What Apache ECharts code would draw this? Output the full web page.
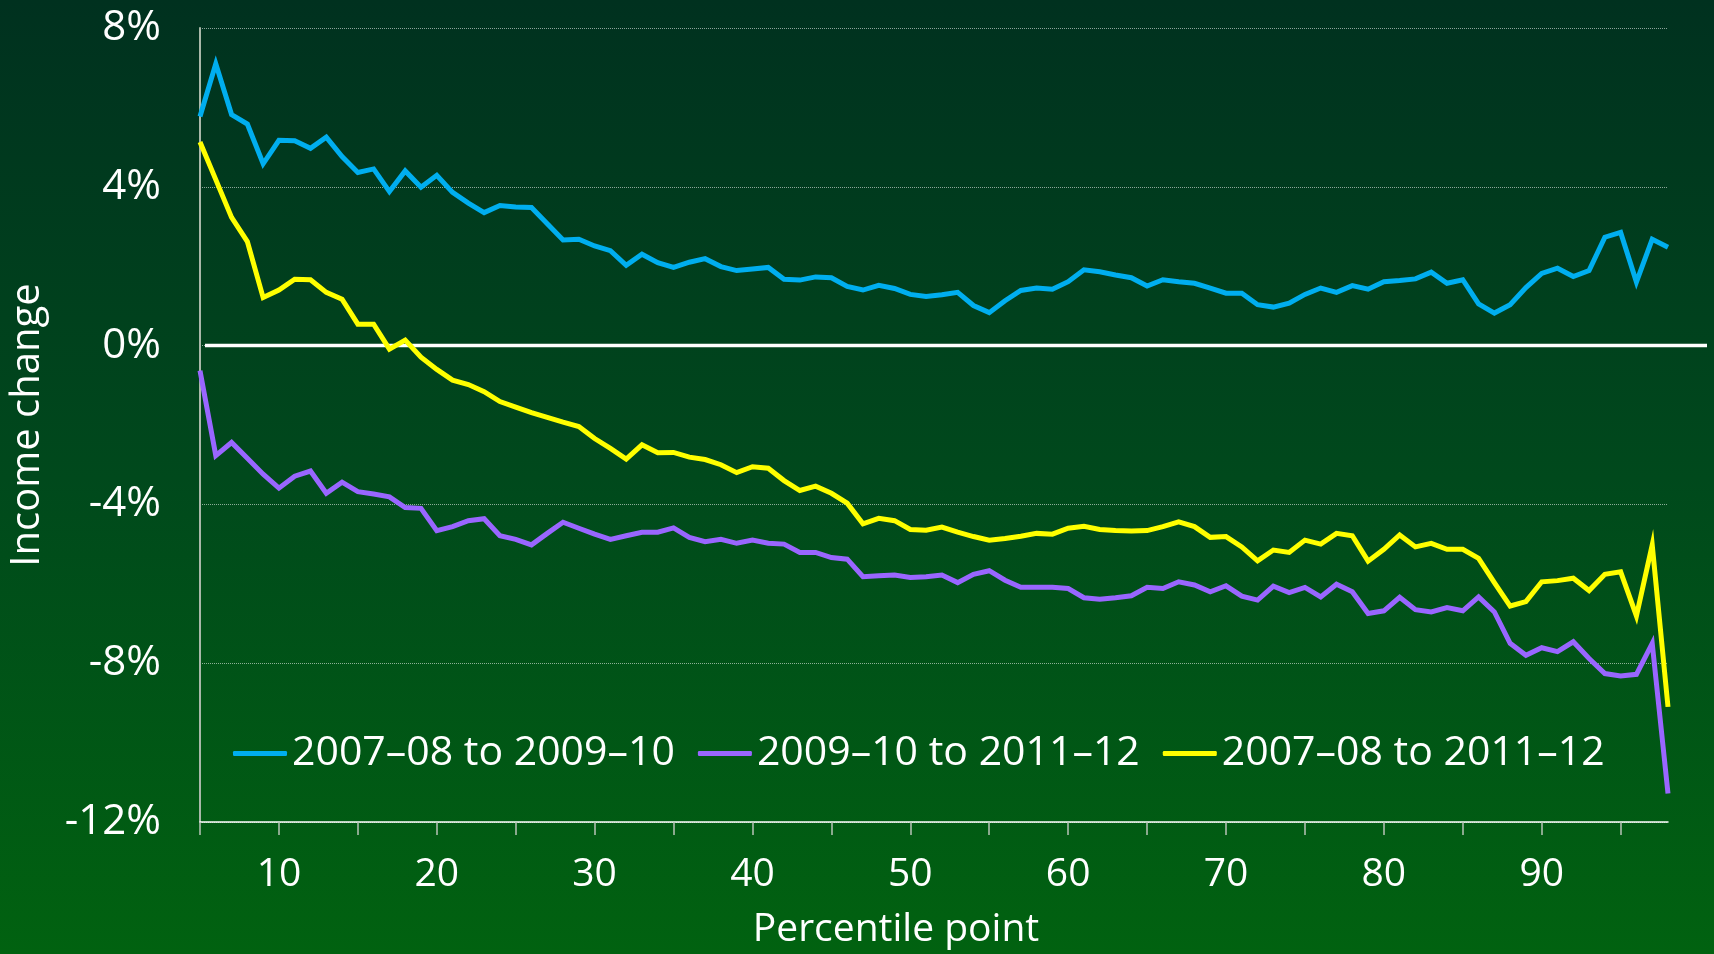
<!DOCTYPE html>
<html>
<head>
<meta charset="utf-8">
<title>Income change by percentile point</title>
<script src="https://cdn.jsdelivr.net/npm/echarts@6/dist/echarts.min.js"></script>
<style>
  html, body { margin: 0; padding: 0; }
  #main { width: 1714px; height: 954px; }
</style>
</head>
<body>
<div id="main"></div>
<script>
// percentile points 5..98
var percentiles = [5, 6, 7, 8, 9, 10, 11, 12, 13, 14, 15, 16, 17, 18, 19, 20, 21, 22, 23, 24,
  25, 26, 27, 28, 29, 30, 31, 32, 33, 34, 35, 36, 37, 38, 39, 40, 41, 42, 43, 44,
  45, 46, 47, 48, 49, 50, 51, 52, 53, 54, 55, 56, 57, 58, 59, 60, 61, 62, 63, 64,
  65, 66, 67, 68, 69, 70, 71, 72, 73, 74, 75, 76, 77, 78, 79, 80, 81, 82, 83, 84,
  85, 86, 87, 88, 89, 90, 91, 92, 93, 94, 95, 96, 97, 98];

var names = ["2007–08 to 2009–10", "2009–10 to 2011–12", "2007–08 to 2011–12"];

// 2007-08 to 2009-10
var change0810 = [5.77, 7.10, 5.82, 5.58, 4.58, 5.17, 5.16, 4.97, 5.25, 4.76, 4.36, 4.45, 3.88, 4.40, 3.99, 4.29, 3.86, 3.59, 3.35, 3.53,
  3.49, 3.48, 3.07, 2.66, 2.68, 2.51, 2.39, 2.02, 2.30, 2.09, 1.97, 2.10, 2.19, 1.99, 1.89, 1.93, 1.97, 1.67, 1.65, 1.73,
  1.71, 1.49, 1.40, 1.52, 1.44, 1.29, 1.24, 1.28, 1.34, 1.01, 0.83, 1.13, 1.39, 1.45, 1.42, 1.61, 1.91, 1.86, 1.78, 1.71,
  1.50, 1.66, 1.61, 1.57, 1.45, 1.32, 1.32, 1.03, 0.97, 1.07, 1.29, 1.45, 1.34, 1.51, 1.42, 1.61, 1.64, 1.68, 1.85, 1.57,
  1.66, 1.05, 0.82, 1.03, 1.46, 1.82, 1.95, 1.74, 1.89, 2.73, 2.85, 1.60, 2.68, 2.48];

// 2009-10 to 2011-12
var change1012 = [-0.63, -2.77, -2.44, -2.84, -3.24, -3.59, -3.29, -3.16, -3.72, -3.44, -3.68, -3.74, -3.81, -4.08, -4.10, -4.66, -4.56, -4.41, -4.36, -4.79,
  -4.88, -5.02, -4.73, -4.45, -4.60, -4.75, -4.88, -4.79, -4.70, -4.70, -4.59, -4.83, -4.94, -4.88, -4.98, -4.90, -4.98, -5.00, -5.21, -5.21,
  -5.34, -5.38, -5.82, -5.80, -5.78, -5.84, -5.82, -5.78, -5.97, -5.76, -5.67, -5.91, -6.09, -6.09, -6.09, -6.12, -6.35, -6.39, -6.35, -6.30,
  -6.09, -6.12, -5.95, -6.03, -6.20, -6.05, -6.31, -6.41, -6.06, -6.22, -6.09, -6.33, -6.01, -6.20, -6.75, -6.68, -6.34, -6.65, -6.71, -6.60,
  -6.68, -6.33, -6.71, -7.50, -7.80, -7.61, -7.71, -7.46, -7.88, -8.26, -8.32, -8.28, -7.50, -11.28];

// 2007-08 to 2011-12
var change0812 = [5.13, 4.18, 3.23, 2.62, 1.21, 1.40, 1.67, 1.66, 1.34, 1.17, 0.54, 0.54, -0.09, 0.14, -0.29, -0.60, -0.87, -0.98, -1.16, -1.41,
  -1.55, -1.69, -1.81, -1.93, -2.04, -2.34, -2.59, -2.86, -2.50, -2.70, -2.69, -2.81, -2.87, -3.00, -3.20, -3.05, -3.09, -3.40, -3.65, -3.54,
  -3.72, -3.97, -4.49, -4.35, -4.41, -4.63, -4.65, -4.57, -4.70, -4.81, -4.90, -4.86, -4.80, -4.73, -4.75, -4.60, -4.55, -4.63, -4.66, -4.67,
  -4.66, -4.56, -4.44, -4.56, -4.83, -4.81, -5.07, -5.42, -5.15, -5.21, -4.90, -5.00, -4.73, -4.79, -5.43, -5.13, -4.77, -5.07, -4.98, -5.13,
  -5.13, -5.36, -5.97, -6.56, -6.45, -5.95, -5.92, -5.86, -6.17, -5.76, -5.70, -6.81, -5.02, -9.10];

var yTicks = { min: -12, max: 8, step: 4 };

function pairs(vals) {
  return percentiles.map(function (p, i) { return [p, vals[i]]; });
}

var font = "Open Sans";
var chartDom = document.getElementById("main");
var myChart = echarts.init(chartDom);

function lineSeries(name, vals, color) {
  return {
    name: name,
    type: "line",
    xAxisIndex: 0,
    yAxisIndex: 0,
    symbol: "none",
    data: pairs(vals),
    lineStyle: { color: color, width: 5, join: "miter" },
    itemStyle: { color: color },
    z: 3
  };
}

var option = {
  animation: false,
  backgroundColor: new echarts.graphic.LinearGradient(0, 0, 0, 1, [
    { offset: 0, color: "#00311f" },
    { offset: 0.5, color: "#00491c" },
    { offset: 1, color: "#016210" }
  ]),
  legend: {
    data: names,
    left: 233,
    top: 733,
    padding: 0,
    itemGap: 23,
    itemWidth: 54,
    itemHeight: 5,
    icon: "roundRect",
    textStyle: { color: "#ffffff", fontSize: 41, fontFamily: font }
  },
  grid: [
    { left: 199, right: 46, top: 28, bottom: 132 },
    // wider grid only for the zero line, which runs past the plot to the right
    { left: 205, right: 7, top: 28, bottom: 132 }
  ],
  xAxis: [
    {
      type: "value",
      gridIndex: 0,
      min: 5,
      max: 98,
      interval: 5,
      name: "Percentile point",
      nameLocation: "middle",
      nameGap: 88,
      nameTextStyle: { color: "#ffffff", fontSize: 39, fontFamily: font, padding: [0, 76, 0, 0] },
      axisLine: { onZero: false, lineStyle: { color: "#ffffff", width: 1.5 } },
      axisTick: { show: true, length: 13, lineStyle: { color: "#b8c4b8", width: 1.5 } },
      axisLabel: {
        color: "#ffffff",
        fontSize: 39,
        fontFamily: font,
        margin: 33,
        showMaxLabel: false,
        formatter: function (v) { return v % 10 === 0 ? String(v) : ""; }
      },
      splitLine: { show: false }
    },
    { type: "value", gridIndex: 1, min: 0, max: 1, show: false }
  ],
  yAxis: [
    {
      type: "value",
      gridIndex: 0,
      min: yTicks.min,
      max: yTicks.max,
      interval: yTicks.step,
      name: "Income change",
      nameLocation: "middle",
      nameGap: 152,
      nameTextStyle: { color: "#ffffff", fontSize: 40, fontFamily: font },
      axisLine: { show: true, onZero: false, lineStyle: { color: "#a9b8a9", width: 2 } },
      axisTick: { show: false },
      axisLabel: {
        color: "#ffffff",
        fontSize: 42,
        fontFamily: font,
        margin: 39,
        formatter: "{value}%"
      },
      splitLine: { show: true, lineStyle: { color: "rgba(255,255,255,0.55)", type: "dotted", width: 1 } }
    },
    { type: "value", gridIndex: 1, min: yTicks.min, max: yTicks.max, show: false }
  ],
  series: [
    {
      name: "zero",
      type: "line",
      xAxisIndex: 1,
      yAxisIndex: 1,
      symbol: "none",
      silent: true,
      data: [[0, 0], [1, 0]],
      lineStyle: { color: "#ffffff", width: 3.5 },
      z: 2
    },
    lineSeries(names[0], change0810, "#00aeef"),
    lineSeries(names[1], change1012, "#9966ff"),
    lineSeries(names[2], change0812, "#ffff00")
  ]
};

myChart.setOption(option);
</script>
</body>
</html>
